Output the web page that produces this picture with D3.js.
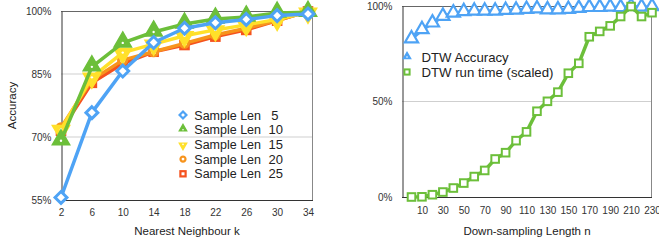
<!DOCTYPE html>
<html>
<head>
<meta charset="utf-8">
<script src="https://cdn.jsdelivr.net/npm/d3@7"></script>
<style>
  html, body { margin: 0; padding: 0; background: #fff; }
  svg { display: block; font-family: "Liberation Sans", Arial, Helvetica, sans-serif; }
</style>
</head>
<body>
<svg id="chart" width="659" height="245"></svg>
<script>
// ---------- Data: left chart ----------
const kValues = [2, 6, 10, 14, 18, 22, 26, 30, 34];
const len5  = [55.6, 75.8, 85.7, 92.5, 95.9, 97.2, 98.0, 98.9, 99.3];
const len10 = [69.1, 86.7, 92.4, 95.0, 96.9, 98.1, 98.6, 99.5, 99.7];
const len15 = [71.8, 84.2, 90.1, 92.1, 94.1, 95.5, 96.7, 98.0, 99.7];
const len20 = [72.2, 83.6, 88.3, 90.3, 92.3, 94.3, 95.9, 97.7, 99.9];
const len25 = [71.5, 82.9, 87.5, 90.3, 91.9, 93.9, 95.5, 97.7, 99.9];
const leftSeriesNames = ["Sample Len", "Sample Len", "Sample Len", "Sample Len", "Sample Len"];
const leftSeriesNums = ["5", "10", "15", "20", "25"];
const leftYTicks = [55, 70, 85, 100];
const leftXTicks = [2, 6, 10, 14, 18, 22, 26, 30, 34];

// ---------- Data: right chart ----------
const nValues = [0, 10, 20, 30, 40, 50, 60, 70, 80, 90, 100, 110, 120, 130, 140, 150, 160, 170, 180, 190, 200, 210, 220, 230];
const dtwAccuracy = [82.7, 87.5, 91.0, 94.5, 96.2, 96.9, 97.2, 97.2, 97.2, 97.6, 97.7, 98.1, 98.4, 97.9, 97.9, 98.1, 98.6, 99.1, 99.1, 99.3, 99.1, 99.7, 99.3, 99.5];
const dtwRunTime = [0, 0.1, 1.2, 2.6, 4.7, 7.3, 10.7, 13.9, 19.9, 23.2, 29.5, 34.1, 44.9, 50.1, 54.9, 64.8, 70.0, 83.9, 86.7, 89.6, 94.5, 99.7, 94.5, 96.5];
const rightSeriesNames = ["DTW Accuracy", "DTW run time (scaled)"];
const rightYTicks = [0, 50, 100];
const rightXTicks = [10, 30, 50, 70, 90, 110, 130, 150, 170, 190, 210, 230];

// ---------- Styles ----------
const C = { blue: "#4ea3f5", green: "#6cbf3a", yellow: "#ffe02a", orange: "#f7941d", red: "#f5521e" };
const svg = d3.select("#chart");

function shapePath(type, size) {
  const map = { diamond: d3.symbolDiamond2 || d3.symbolDiamond, triangle: d3.symbolTriangle, square: d3.symbolSquare, circle: d3.symbolCircle };
  return d3.symbol().type(map[type]).size(size)();
}

// ========== LEFT CHART ==========
(function () {
  const L = { x0: 61, x1: 313, y0: 11, y1: 200 };
  const x = d3.scaleLinear().domain([2, 34]).range([61, 308]);
  const y = d3.scaleLinear().domain([55, 100]).range([L.y1, L.y0]);
  const g = svg.append("g");

  g.selectAll(".grid").data(leftYTicks.filter(v => v > 55 && v < 100)).join("line")
    .attr("x1", L.x0).attr("x2", L.x1).attr("y1", d => y(d)).attr("y2", d => y(d))
    .attr("stroke", "#cfcfcf").attr("stroke-width", 1);

  g.append("line").attr("x1", L.x0).attr("x2", L.x1).attr("y1", L.y0 + 0.5).attr("y2", L.y0 + 0.5).attr("stroke", "#666");
  g.append("line").attr("x1", L.x1 - 0.5).attr("x2", L.x1 - 0.5).attr("y1", L.y0).attr("y2", L.y1).attr("stroke", "#888");

  const yAxis = d3.axisLeft(y).tickValues(leftYTicks).tickSize(0).tickPadding(10).tickFormat(d => d + "%");
  const ya = g.append("g").attr("transform", `translate(${L.x0 + 0.5},0)`).call(yAxis);
  ya.select(".domain").attr("stroke", "#333");
  ya.selectAll("text").attr("font-size", 10).attr("fill", "#333").attr("font-family", "Liberation Sans, Arial, sans-serif");

  const xAxis = d3.axisBottom(x).tickValues(leftXTicks).tickSize(0).tickPadding(8);
  const xa = g.append("g").attr("transform", `translate(0,${L.y1 + 0.5})`).call(xAxis);
  xa.select(".domain").attr("d", `M${L.x0},0H${L.x1}`).attr("stroke", "#333");
  xa.selectAll("text").attr("font-size", 10).attr("fill", "#333").attr("font-family", "Liberation Sans, Arial, sans-serif");

  g.append("text").attr("x", (L.x0 + L.x1) / 2).attr("y", 235).attr("text-anchor", "middle")
    .attr("font-size", 11.5).attr("fill", "#222").text("Nearest Neighbour k");
  g.append("text").attr("transform", `translate(16,${(L.y0 + L.y1) / 2}) rotate(-90)`).attr("text-anchor", "middle")
    .attr("font-size", 11.5).attr("fill", "#222").text("Accuracy");

  const series = [
    { vals: len25, color: C.red, shape: "square" },
    { vals: len20, color: C.orange, shape: "circle" },
    { vals: len15, color: C.yellow, shape: "triangleDown" },
    { vals: len10, color: C.green, shape: "triangle" },
    { vals: len5, color: C.blue, shape: "diamond" }
  ];
  const line = d3.line().x((d, i) => x(kValues[i])).y(d => y(d));

  function marker(sel, s, big) {
    if (s.shape === "diamond") {
      sel.append("path").attr("d", shapePath("diamond", big ? 90 : 30)).attr("fill", "#fff").attr("stroke", s.color).attr("stroke-width", big ? 3 : 2.2);
    } else if (s.shape === "triangle") {
      sel.append("path").attr("d", shapePath("triangle", big ? 130 : 22)).attr("fill", s.color).attr("stroke", s.color).attr("stroke-width", 1.5).attr("transform", "translate(0,-1)");
      sel.append("circle").attr("r", big ? 1.2 : 0.8).attr("fill", "#fff");
    } else if (s.shape === "triangleDown") {
      sel.append("path").attr("d", shapePath("triangle", big ? 130 : 22)).attr("fill", s.color).attr("stroke", s.color).attr("stroke-width", 1.5).attr("transform", "translate(0,1) rotate(180)");
      sel.append("circle").attr("r", big ? 1.2 : 0.8).attr("fill", "#fff");
    } else if (s.shape === "circle") {
      sel.append("circle").attr("r", big ? 4 : 2.5).attr("fill", "#fff").attr("stroke", s.color).attr("stroke-width", big ? 3 : 2.2);
    } else if (s.shape === "square") {
      const h = big ? 3.8 : 2.6;
      sel.append("rect").attr("x", -h).attr("y", -h).attr("width", 2 * h).attr("height", 2 * h).attr("fill", "#fff").attr("stroke", s.color).attr("stroke-width", big ? 3 : 2.2);
    }
  }

  series.forEach(s => {
    g.append("path").datum(s.vals).attr("d", line).attr("fill", "none").attr("stroke", s.color).attr("stroke-width", 3.5).attr("stroke-linejoin", "round");
    s.vals.forEach((v, i) => {
      const m = g.append("g").attr("transform", `translate(${x(kValues[i])},${y(v)})`);
      marker(m, s, true);
    });
  });

  const legend = [series[4], series[3], series[2], series[1], series[0]];
  legend.forEach((s, i) => {
    const ly = 115 + i * 14.7;
    const m = g.append("g").attr("transform", `translate(183,${ly})`);
    marker(m, s, false);
    g.append("text").attr("x", 194.3).attr("y", ly + 4.6).attr("font-size", 12.5).attr("fill", "#222").text(leftSeriesNames[i]);
    const num = leftSeriesNums[i];
    g.append("text").attr("x", num.length > 1 ? 283 : 278.5).attr("y", ly + 4.6).attr("font-size", 13).attr("fill", "#222")
      .attr("text-anchor", "end").text(num);
  });
})();

// ========== RIGHT CHART ==========
(function () {
  const R = { x0: 402, x1: 652, y0: 6, y1: 197 };
  const x = d3.scaleLinear().domain([0, 230]).range([411.5, 652]);
  const y = d3.scaleLinear().domain([0, 100]).range([R.y1, R.y0]);
  const g = svg.append("g");

  g.append("line").attr("x1", R.x0).attr("x2", R.x1).attr("y1", y(50)).attr("y2", y(50)).attr("stroke", "#cfcfcf");
  g.append("line").attr("x1", R.x0).attr("x2", R.x1).attr("y1", R.y0 + 0.5).attr("y2", R.y0 + 0.5).attr("stroke", "#666");
  g.append("line").attr("x1", R.x1 - 0.5).attr("x2", R.x1 - 0.5).attr("y1", R.y0).attr("y2", R.y1).attr("stroke", "#888");

  const yAxis = d3.axisLeft(y).tickValues(rightYTicks).tickSize(0).tickPadding(10).tickFormat(d => d + "%");
  const ya = g.append("g").attr("transform", `translate(${R.x0 + 0.5},0)`).call(yAxis);
  ya.select(".domain").attr("stroke", "#333");
  ya.selectAll("text").attr("font-size", 10).attr("fill", "#333").attr("font-family", "Liberation Sans, Arial, sans-serif");

  const xAxis = d3.axisBottom(x).tickValues(rightXTicks).tickSize(0).tickPadding(9);
  const xa = g.append("g").attr("transform", `translate(0,${R.y1 + 0.5})`).call(xAxis);
  xa.select(".domain").attr("d", `M${R.x0},0H${R.x1}`).attr("stroke", "#333");
  xa.selectAll("text").attr("font-size", 10).attr("fill", "#333").attr("font-family", "Liberation Sans, Arial, sans-serif");

  g.append("text").attr("x", (R.x0 + R.x1) / 2).attr("y", 235).attr("text-anchor", "middle")
    .attr("font-size", 11.5).attr("fill", "#222").text("Down-sampling Length n");

  const line = d3.line().x((d, i) => x(nValues[i])).y(d => y(d));

  function tri(sel, big) {
    if (big) {
      sel.append("path").attr("d", shapePath("triangle", 75)).attr("transform", "translate(0,-0.5)")
        .attr("fill", "#fff").attr("stroke", C.blue).attr("stroke-width", 2.2);
    } else {
      sel.append("path").attr("d", shapePath("triangle", 22)).attr("transform", "translate(0,-0.5)")
        .attr("fill", C.blue).attr("stroke", C.blue).attr("stroke-width", 1.5);
      sel.append("circle").attr("r", 0.8).attr("fill", "#fff");
    }
  }
  function sq(sel, big) {
    const h = big ? 3.8 : 2.6;
    sel.append("rect").attr("x", -h).attr("y", -h).attr("width", 2 * h).attr("height", 2 * h)
      .attr("fill", "#fff").attr("stroke", C.green).attr("stroke-width", 2);
  }

  g.append("path").datum(dtwAccuracy).attr("d", line).attr("fill", "none").attr("stroke", C.blue).attr("stroke-width", 3.5).attr("stroke-linejoin", "round");
  dtwAccuracy.forEach((v, i) => tri(g.append("g").attr("transform", `translate(${x(nValues[i])},${y(v)})`), true));

  g.append("path").datum(dtwRunTime).attr("d", line).attr("fill", "none").attr("stroke", C.green).attr("stroke-width", 3.5).attr("stroke-linejoin", "round");
  dtwRunTime.forEach((v, i) => sq(g.append("g").attr("transform", `translate(${x(nValues[i])},${y(v)})`), true));

  tri(g.append("g").attr("transform", "translate(407,57)"), false);
  g.append("text").attr("x", 421.5).attr("y", 61.5).attr("font-size", 13.2).attr("fill", "#222").text(rightSeriesNames[0]);
  sq(g.append("g").attr("transform", "translate(407,72)"), false);
  g.append("text").attr("x", 421.5).attr("y", 76.5).attr("font-size", 13.2).attr("fill", "#222").text(rightSeriesNames[1]);
})();
</script>
</body>
</html>
